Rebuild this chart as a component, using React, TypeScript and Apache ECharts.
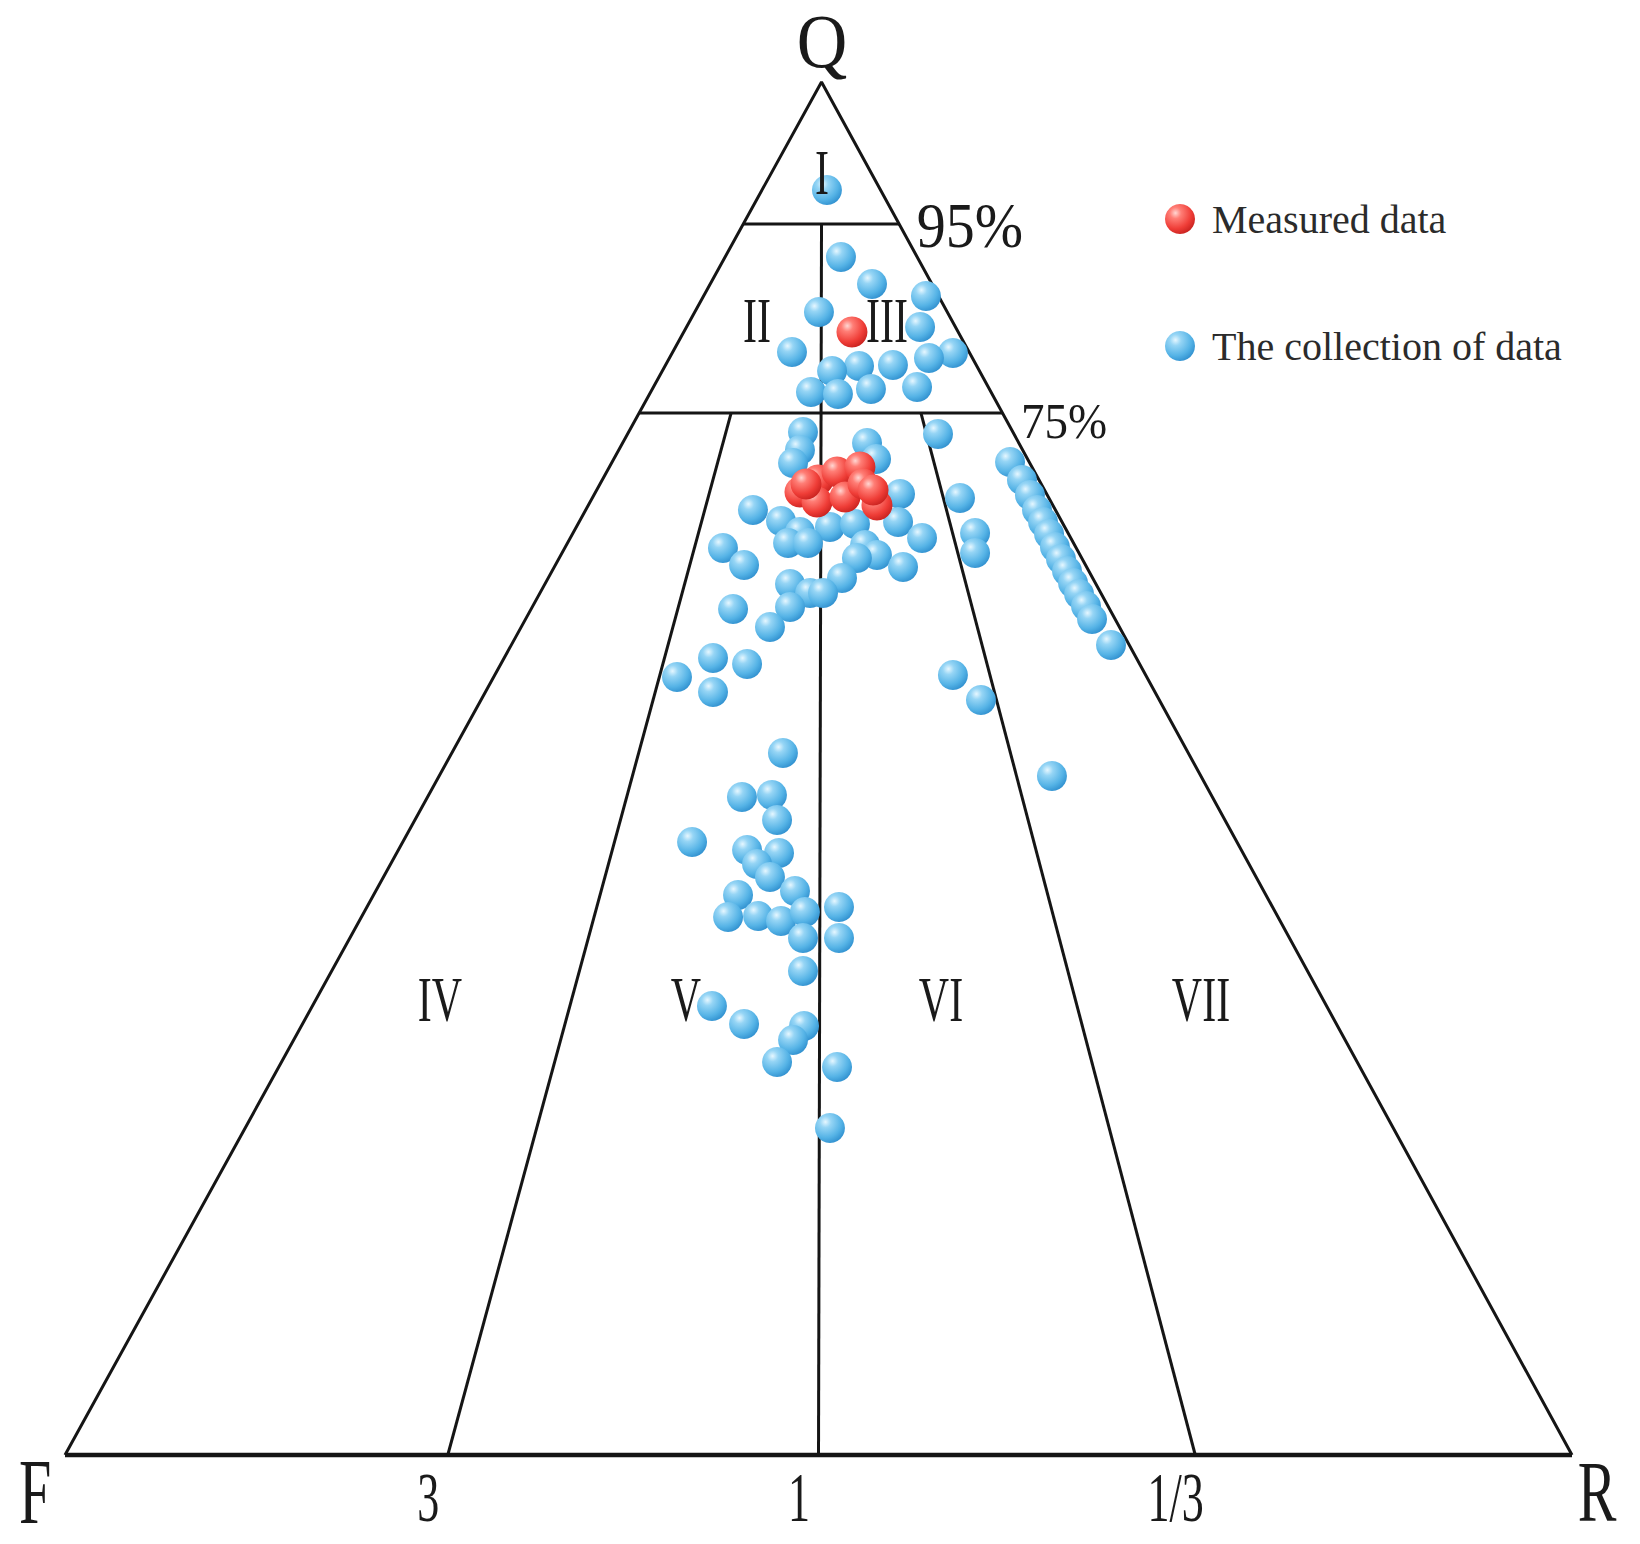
import React, { useEffect, useRef } from "react";
import * as echarts from "echarts";

const CHART_W = 1640;
const CHART_H = 1544;
const FONT = '"Liberation Serif", "Times New Roman", serif';

// Diagram coordinates: x runs along the F–R base (F = 0, R = 100),
// y is the height above the base (base = 0, Q apex = 100).
const apexX = 50.2;
const boundaryLevels = [89.66, 75.89]; // the "95%" and "75%" division lines
const boundaryLabels = ["95%", "75%"];
const boundaryLabelPos = [[60.05, 89.51], [66.29, 75.31]];
const boundaryLabelSize = [58, 47];

const ratioBaseX = [25.4, 50, 75]; // F/R = 3, 1, 1/3 on the base
const ratioTopX = [44.2, 50.2, 56.8]; // upper ends of those lines
const ratioTopLevel = [1, 0, 1]; // index into boundaryLevels where each ratio line ends
const ratioLabels = ["3", "1", "1/3"];
const ratioLabelY = -3.1;
const ratioLabelShift = -1.3;

const vertexLabels = ["Q", "F", "R"];
const vertexLabelPos = [[50.23, 102.95], [-1.99, -2.7], [101.66, -2.65]];
const vertexLabelSize = [70, 58, 58];
const vertexLabelStretch = [1.08, 1.6, 1.5];

const regionLabels = ["I", "II", "III", "IV", "V", "VI", "VII"];
const regionLabelPos = [
  [50.23, 93.37], [45.92, 82.59], [54.55, 82.59],
  [24.88, 33.14], [41.21, 33.14], [58.13, 33.14], [75.38, 33.14],
];

const measuredData = [
  [52.22, 81.79], [48.77, 70.14], [49.97, 71.01], [49.9, 69.41], [51.23, 71.6],
  [51.76, 69.77], [52.75, 71.96], [52.95, 70.72], [53.88, 69.19], [53.62, 70.28],
  [49.17, 70.72],
];

const collectionData = [
  [50.56, 92.13], [51.49, 87.25], [53.55, 85.29], [57.13, 84.41], [50.03, 83.25],
  [56.74, 82.16], [48.24, 80.34], [58.92, 80.26], [57.33, 79.9], [54.94, 79.39],
  [52.69, 79.32], [50.9, 78.95], [49.5, 77.42], [51.29, 77.28], [53.48, 77.64],
  [56.54, 77.79],
  [48.97, 74.51], [48.77, 73.2], [48.31, 72.25], [53.22, 73.71], [53.82, 72.54],
  [57.93, 74.36], [55.41, 69.99], [45.65, 68.83], [47.51, 68.03], [48.77, 67.22],
  [50.76, 67.59], [52.42, 67.81], [55.28, 67.95], [56.87, 66.79], [47.98, 66.42],
  [49.3, 66.42], [43.66, 66.06], [45.06, 64.82], [53.09, 66.28], [53.88, 65.55],
  [52.55, 65.33], [55.61, 64.68], [51.56, 63.87], [48.11, 63.44], [49.44, 62.78],
  [50.3, 62.78], [48.11, 61.76], [44.33, 61.62], [46.78, 60.31], [43.0, 58.05],
  [45.26, 57.61], [40.61, 56.66], [43.0, 55.57],
  [59.39, 69.7], [60.39, 67.15], [60.39, 65.7], [58.92, 56.81], [60.78, 54.99],
  [65.49, 49.45],
  [62.71, 72.32], [63.5, 71.01], [64.03, 69.92], [64.5, 68.83], [64.9, 67.95],
  [65.3, 67.08], [65.69, 66.13], [66.09, 65.26], [66.49, 64.38], [66.89, 63.51],
  [67.29, 62.71], [67.75, 61.84], [68.15, 60.89], [69.41, 59.0],
  [47.64, 51.13], [44.92, 47.92], [46.91, 48.07], [47.25, 46.25], [41.61, 44.65],
  [45.26, 44.06], [47.38, 43.85], [45.92, 43.04], [46.78, 42.1], [48.44, 41.08],
  [44.66, 40.79], [44.0, 39.18], [45.99, 39.26], [47.51, 38.89], [49.1, 39.55],
  [51.36, 39.91], [48.97, 37.65], [51.36, 37.65], [48.97, 35.25], [42.93, 32.7],
  [45.06, 31.39], [49.04, 31.25], [48.31, 30.23], [47.25, 28.62], [51.23, 28.26],
  [50.76, 23.82],
];

const blueBall = {
  type: "radial", x: 0.35, y: 0.3, r: 0.75,
  colorStops: [
    { offset: 0, color: "#e6f7ff" },
    { offset: 0.25, color: "#96d5f5" },
    { offset: 0.7, color: "#55b3e6" },
    { offset: 1, color: "#3090cf" },
  ],
};
const redBall = {
  type: "radial", x: 0.35, y: 0.3, r: 0.75,
  colorStops: [
    { offset: 0, color: "#ffd6d2" },
    { offset: 0.25, color: "#ff7e76" },
    { offset: 0.7, color: "#ef3d37" },
    { offset: 1, color: "#c8221f" },
  ],
};

export default function App() {
  const ref = useRef<HTMLDivElement>(null);

  useEffect(() => {
    const el = ref.current!;
    const chart = echarts.init(el, null, { renderer: "svg", width: CHART_W, height: CHART_H });

    const xL = (y: number) => (apexX * y) / 100;
    const xR = (y: number) => 100 - ((100 - apexX) * y) / 100;

    const seg = (name: string, data: number[][], width = 3) => ({
      type: "line",
      name,
      data,
      symbol: "none",
      silent: true,
      clip: false,
      z: 1,
      lineStyle: { color: "#151515", width },
    });

    const series: any[] = [
      seg("sides", [[0, 0], [apexX, 100], [100, 0]]),
      seg("base", [[0, 0], [100, 0]], 4.5),
      ...boundaryLevels.map((lv, i) => seg("level" + i, [[xL(lv), lv], [xR(lv), lv]])),
      ...ratioBaseX.map((bx, i) =>
        seg("ratio" + i, [[bx, 0], [ratioTopX[i], boundaryLevels[ratioTopLevel[i]]]])
      ),
      {
        type: "scatter",
        name: "The collection of data",
        data: collectionData,
        symbolSize: 30,
        clip: false,
        z: 3,
        itemStyle: { color: blueBall, opacity: 1 },
      },
      {
        type: "scatter",
        name: "Measured data",
        data: measuredData,
        symbolSize: 31,
        clip: false,
        z: 4,
        itemStyle: { color: redBall, opacity: 1 },
      },
    ];

    chart.setOption({
      animation: false,
      backgroundColor: "#ffffff",
      grid: { left: 65, top: 82, width: 1507, height: 1373, containLabel: false },
      xAxis: { type: "value", min: 0, max: 100, show: false },
      yAxis: { type: "value", min: 0, max: 100, show: false },
      legend: {
        data: ["Measured data", "The collection of data"],
        orient: "vertical",
        left: 1160,
        top: 194,
        itemWidth: 30,
        itemHeight: 30,
        itemGap: 87,
        icon: "circle",
        selectedMode: false,
        textStyle: { fontFamily: FONT, fontSize: 40, color: "#2b2b2b", padding: [0, 0, 0, 12] },
      },
      tooltip: { show: false },
      series,
    });

    const toPx = (p: number[]) => chart.convertToPixel({ gridIndex: 0 }, p) as number[];
    const label = (text: string, p: number[], size: number, stretch: number, align = "center") => {
      const [x, y] = toPx(p);
      return {
        type: "text",
        x,
        y,
        scaleY: stretch,
        silent: true,
        z: 10,
        style: {
          text,
          fontFamily: FONT,
          fontSize: size,
          fill: "#1a1a1a",
          align,
          verticalAlign: "middle",
        },
      };
    };

    const elements: any[] = [
      ...vertexLabels.map((t, i) => label(t, vertexLabelPos[i], vertexLabelSize[i], vertexLabelStretch[i])),
      ...regionLabels.map((t, i) => label(t, regionLabelPos[i], 42, 1.5)),
      ...ratioLabels.map((t, i) => label(t, [ratioBaseX[i] + ratioLabelShift, ratioLabelY], 44, 1.6)),
      ...boundaryLabels.map((t, i) => label(t, boundaryLabelPos[i], boundaryLabelSize[i], 1.08)),
    ];

    chart.setOption({ graphic: { elements } });

    return () => chart.dispose();
  }, []);

  return (
    <div
      ref={ref}
      style={{ position: "absolute", left: 0, top: 0, width: CHART_W, height: CHART_H, background: "#fff" }}
    />
  );
}
